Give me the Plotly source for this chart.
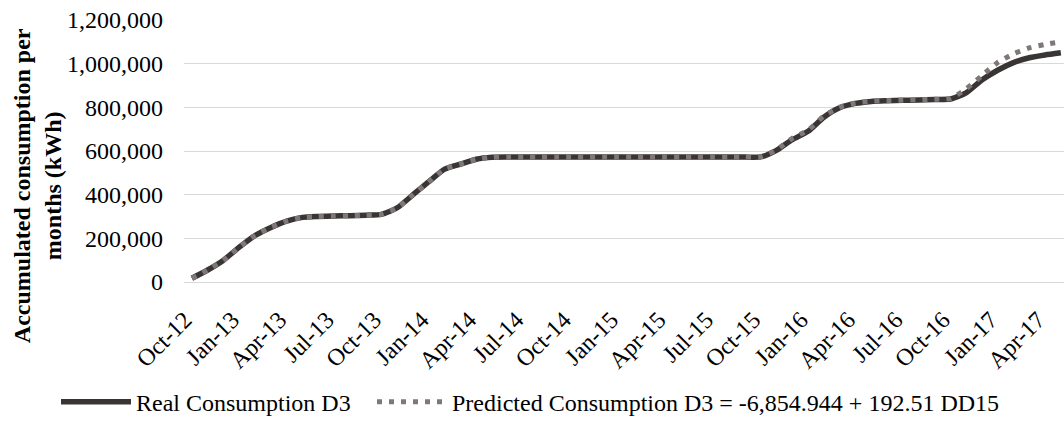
import plotly.graph_objects as go

# Monthly categories, Oct-2012 .. May-2017
months = [
    "Oct-12", "Nov-12", "Dec-12",
    "Jan-13", "Feb-13", "Mar-13", "Apr-13", "May-13", "Jun-13",
    "Jul-13", "Aug-13", "Sep-13", "Oct-13", "Nov-13", "Dec-13",
    "Jan-14", "Feb-14", "Mar-14", "Apr-14", "May-14", "Jun-14",
    "Jul-14", "Aug-14", "Sep-14", "Oct-14", "Nov-14", "Dec-14",
    "Jan-15", "Feb-15", "Mar-15", "Apr-15", "May-15", "Jun-15",
    "Jul-15", "Aug-15", "Sep-15", "Oct-15", "Nov-15", "Dec-15",
    "Jan-16", "Feb-16", "Mar-16", "Apr-16", "May-16", "Jun-16",
    "Jul-16", "Aug-16", "Sep-16", "Oct-16", "Nov-16", "Dec-16",
    "Jan-17", "Feb-17", "Mar-17", "Apr-17", "May-17",
]

# Accumulated consumption (kWh)
real_d3 = [
    17000, 55000, 100000,
    160000, 213000, 250000, 279000, 296000, 300000,
    302000, 304000, 306000, 310000, 340000, 400000,
    460000, 517000, 540000, 562000, 571000, 572000,
    572000, 572000, 572000, 572000, 572000, 572000,
    572000, 572000, 572000, 572000, 572000, 572000,
    572000, 572000, 572000, 573000, 603000, 652000,
    690000, 755000, 798000, 818000, 827000, 830000,
    832000, 834000, 836000, 838000, 866000, 925000,
    970000, 1005000, 1027000, 1040000, 1050000,
]

predicted_d3 = [
    17000, 55000, 100000,
    160000, 213000, 250000, 279000, 296000, 300000,
    302000, 304000, 306000, 310000, 340000, 400000,
    460000, 517000, 540000, 562000, 571000, 572000,
    572000, 572000, 572000, 572000, 572000, 572000,
    572000, 572000, 572000, 572000, 572000, 572000,
    572000, 572000, 572000, 573000, 605000, 658000,
    695000, 760000, 800000, 820000, 828000, 831000,
    833000, 835000, 837000, 840000, 884000, 945000,
    1005000, 1045000, 1072000, 1088000, 1100000,
]

tick_labels = [
    "Oct-12", "Jan-13", "Apr-13", "Jul-13", "Oct-13", "Jan-14", "Apr-14",
    "Jul-14", "Oct-14", "Jan-15", "Apr-15", "Jul-15", "Oct-15", "Jan-16",
    "Apr-16", "Jul-16", "Oct-16", "Jan-17", "Apr-17",
]

y_ticks = [0, 200000, 400000, 600000, 800000, 1000000, 1200000]

FONT = "Liberation Serif, Times New Roman, serif"
FS = 24
GRID = "#d9d9d9"

x_idx = list(range(len(months)))
x_range = [-0.5, len(months) - 0.8]

fig = go.Figure()
fig.add_trace(go.Scatter(
    x=x_idx, y=real_d3, mode="lines",
    name="Real Consumption D3", legend="legend",
    line=dict(color="#3a3535", width=5.5, shape="spline", smoothing=0.6),
))
fig.add_trace(go.Scatter(
    x=x_idx, y=predicted_d3, mode="lines",
    name="Predicted Consumption D3 = -6,854.944 + 192.51 DD15", legend="legend2",
    line=dict(color="#807878", width=5, dash="5px,7px", shape="spline", smoothing=0.6),
))

# boundary tick marks between quarters
boundary_ticks = [i - 0.5 for i in range(0, len(months), 3)]
# rotated labels end just left of their month's centre
label_pos = [months.index(t) - 0.45 for t in tick_labels]

legend_common = dict(
    orientation="h",
    xref="container", yref="container",
    xanchor="left", y=0.045, yanchor="middle",
    font=dict(family=FONT, size=FS, color="#000000"),
    itemwidth=70,
    bgcolor="rgba(0,0,0,0)",
)

fig.update_layout(
    width=1064, height=421,
    margin=dict(l=184, r=0, t=20, b=139),
    paper_bgcolor="white", plot_bgcolor="white",
    font=dict(family=FONT, size=FS, color="#000000"),
    showlegend=True,
    legend=dict(legend_common, x=56 / 1064),
    legend2=dict(legend_common, x=372 / 1064),
    xaxis=dict(
        range=x_range,
        tickmode="array",
        tickvals=label_pos,
        ticktext=tick_labels,
        tickangle=-45,
        ticks="",
        ticklabelstandoff=13,
        showgrid=False,
        zeroline=False,
        showline=True, linecolor=GRID, linewidth=1.3,
        tickfont=dict(family=FONT, size=FS, color="#000000"),
    ),
    xaxis2=dict(
        overlaying="x", anchor="y", side="bottom",
        range=x_range,
        tickmode="array", tickvals=boundary_ticks,
        ticks="outside", ticklen=7, tickwidth=1.3, tickcolor=GRID,
        showticklabels=False, showgrid=False, zeroline=False, showline=False,
    ),
    yaxis=dict(
        range=[0, 1200000],
        tickmode="array", tickvals=y_ticks,
        tickformat=",",
        showgrid=True, gridcolor=GRID, gridwidth=1.3,
        zeroline=False, showline=False, ticks="",
        ticklabelstandoff=20,
        tickfont=dict(family=FONT, size=FS, color="#000000"),
    ),
    annotations=[dict(
        text="<b>Accumulated consumption per<br>months (kWh)</b>",
        xref="paper", yref="paper",
        x=-0.167, y=0.366,
        xanchor="center", yanchor="middle",
        textangle=-90, showarrow=False,
        font=dict(family=FONT, size=FS, color="#000000"),
    )],
)

fig.write_html("out.html")
